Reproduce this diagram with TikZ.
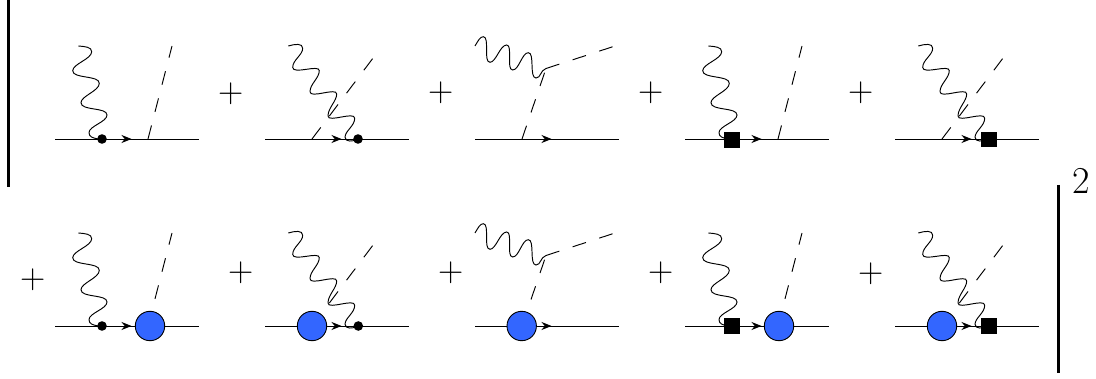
\documentclass[tikz,border=0pt]{standalone}
\usepackage{fontspec}
\usetikzlibrary{arrows.meta}
\tikzset{
  fermion/.style={line width=0.95pt},
  tipline/.style={line width=0.95pt,-{Stealth[length=10pt,width=8pt]}},
  scalar/.style={line width=0.95pt,dash pattern=on 14pt off 14pt},
  scalarb/.style={line width=0.95pt,dash pattern=on 14.5pt off 14.2pt},
  photon/.style={line width=0.95pt},
  dotv/.style={circle,fill=black,inner sep=0pt,minimum size=9.6pt},
  squarev/.style={rectangle,fill=black,inner sep=0pt,minimum size=15.8pt},
  blob/.style={circle,draw=black,fill=blobblue,line width=0.9pt,inner sep=0pt,minimum size=29.4pt},
  plussign/.style={inner sep=0pt,font=\fontsize{35}{35}\selectfont},
  bar/.style={line width=2.6pt},
  power/.style={inner sep=0pt,font=\fontsize{38}{38}\selectfont}
}
\definecolor{blobblue}{HTML}{3366FF}
% fermion line with arrow
\newcommand{\fline}{%
  \coordinate (L) at (0,0);\coordinate (R) at (144,0);\coordinate (T) at (76.5,0);
  \draw[fermion] (L) -- (R);
  \draw[tipline] (L) -- (T);}
% type A: photon left of the scalar
\newcommand{\typeA}{%
  \coordinate (S0) at (93,0);\coordinate (S1) at (117,-93);
  \draw[scalar] (S0) -- (S1);
  \draw[photon] (23.3,-93) .. controls (30,-92.5) and (36.7,-92) .. (36.7,-87.3)
    .. controls (36.7,-80) and (17.7,-75) .. (17.7,-68.3)
    .. controls (17.7,-60) and (44.3,-64) .. (44.3,-55.7)
    .. controls (44.3,-48) and (26,-43) .. (26,-36.3)
    .. controls (26,-28) and (52,-32) .. (52,-24)
    .. controls (52,-17) and (34,-13) .. (34,-6.3)
    .. controls (34,-2) and (38,-1) .. (43,0);}
% type B: photon crossing the scalar
\newcommand{\typeB}{%
  \coordinate (S0) at (47,0);\coordinate (S1) at (108.6,-81.7);
  \draw[scalarb] (S0) -- (S1);
  \draw[photon] (23.3,-93) .. controls (30,-95) and (37.7,-96) .. (37.7,-90.7)
    .. controls (37.7,-84) and (27.7,-79) .. (27.7,-71.7)
    .. controls (27.7,-64) and (54.3,-75) .. (54.3,-68.3)
    .. controls (54.3,-61) and (45,-55) .. (45,-47.3)
    .. controls (45,-40) and (71.7,-52) .. (71.7,-45)
    .. controls (71.7,-38) and (63,-31) .. (63,-23)
    .. controls (63,-16) and (89.7,-28) .. (89.7,-20.7)
    .. controls (89.7,-13) and (80,-8) .. (80,-1.7)
    .. controls (80,3) and (88,3) .. (93,0);}
% type C: photon onto the scalar vertex
\newcommand{\typeC}{%
  \coordinate (S0) at (47,0);\coordinate (V) at (71,-70.5);\coordinate (S1) at (140,-93);
  \draw[scalar] (S0) -- (V);
  \draw[scalar] (V) -- (S1);
  \draw[photon] (0,-93) .. controls (3,-98) and (5,-102.3) .. (8.3,-102.3)
    .. controls (15,-102.3) and (8,-76.7) .. (15,-76.7)
    .. controls (21,-76.7) and (25,-94) .. (31.7,-94)
    .. controls (38,-94) and (31,-69) .. (37.7,-69)
    .. controls (44,-69) and (47,-86.3) .. (53.3,-86.3)
    .. controls (60,-86.3) and (54,-61) .. (61,-61)
    .. controls (66,-61) and (65,-68.5) .. (V);}
\begin{document}
\begin{tikzpicture}[x=1pt,y=-1pt]
\useasboundingbox (0,0) rectangle (1096,379);
% row 1
\begin{scope}[shift={(55,139)}]\fline\typeA\node[dotv] (d1) at (47,0) {};\end{scope}
\begin{scope}[shift={(265,139)}]\fline\typeB\node[dotv] (d2) at (93,0) {};\end{scope}
\begin{scope}[shift={(475,139)}]\fline\typeC\end{scope}
\begin{scope}[shift={(685,139)}]\fline\typeA\node[squarev] (d4) at (46.8,1.3) {};\end{scope}
\begin{scope}[shift={(895,139)}]\fline\typeB\node[squarev] (d5) at (93.7,0.5) {};\end{scope}
% row 2
\begin{scope}[shift={(55,326)}]\fline\typeA\node[dotv] (d6) at (47,0) {};\node[blob] (b6) at (95,0) {};\end{scope}
\begin{scope}[shift={(265,326)}]\fline\typeB\node[dotv] (d7) at (93.3,0) {};\node[blob] (b7) at (47,0) {};\end{scope}
\begin{scope}[shift={(475,326)}]\fline\typeC\node[blob] (b8) at (46.7,0) {};\end{scope}
\begin{scope}[shift={(685,326)}]\fline\typeA\node[squarev] (d9) at (47,0.2) {};\node[blob] (b9) at (94,0) {};\end{scope}
\begin{scope}[shift={(895,326)}]\fline\typeB\node[squarev] (d10) at (93.7,0.2) {};\node[blob] (b10) at (47,0) {};\end{scope}
% plus signs
\node[plussign] (p1) at (230.7,93.5) {+};
\node[plussign] (p2) at (441.5,92.7) {+};
\node[plussign] (p3) at (650.7,92.7) {+};
\node[plussign] (p4) at (860.7,92.7) {+};
\node[plussign] (p5) at (32.7,279.3) {+};
\node[plussign] (p6) at (241,272.7) {+};
\node[plussign] (p7) at (451,272.7) {+};
\node[plussign] (p8) at (661,272.7) {+};
\node[plussign] (p9) at (871,273.3) {+};
% bars and power
\coordinate (lb0) at (8.7,0);\coordinate (lb1) at (8.7,187);
\coordinate (rb0) at (1058.5,185);\coordinate (rb1) at (1058.5,373);
\draw[bar] (lb0) -- (lb1);
\draw[bar] (rb0) -- (rb1);
\node[power] (two) at (1081.5,181) {2};
\end{tikzpicture}
\end{document}
